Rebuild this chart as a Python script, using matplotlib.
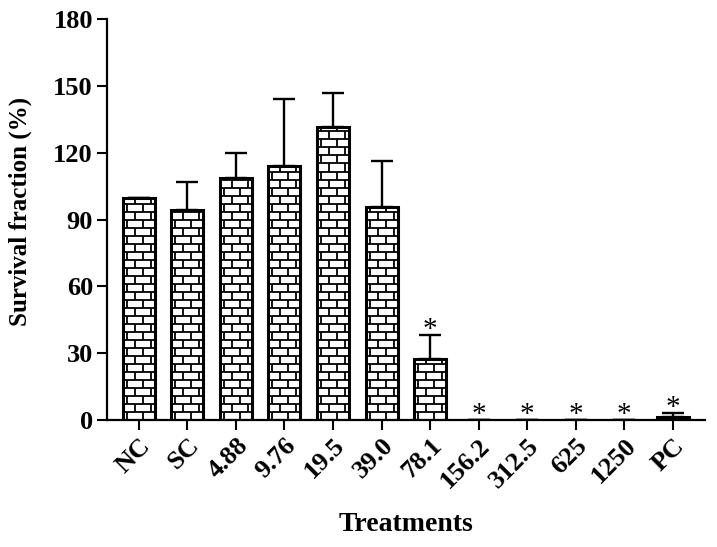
import numpy as np
import matplotlib.pyplot as plt
from matplotlib.collections import LineCollection

plt.rcParams['font.family'] = ['Liberation Serif', 'DejaVu Serif']
plt.rcParams['font.weight'] = 'bold'

# data
treatments = ['NC', 'SC', '4.88', '9.76', '19.5', '39.0', '78.1',
              '156.2', '312.5', '625', '1250', 'PC']
survival = [99.5, 94.5, 108.5, 114.0, 131.5, 95.5, 27.5,
            0.0, 0.0, 0.0, 0.0, 1.5]
sem = [0.0, 12.5, 11.5, 30.0, 15.5, 21.0, 10.5,
       0.0, 0.0, 0.0, 0.0, 1.5]
significant = [False, False, False, False, False, False, True,
               True, True, True, True, True]

fig = plt.figure(figsize=(7.17, 5.47), dpi=100)
ax = fig.add_axes([0.149, 0.232, 0.834, 0.733])

x = np.arange(len(treatments))
width = 0.66
bars = ax.bar(x, survival, width, color='white', edgecolor='black',
              linewidth=2.2, zorder=2)
ax.errorbar(x, survival, yerr=[np.zeros(len(sem)), sem], fmt='none',
            ecolor='black', elinewidth=1.7, capsize=8, capthick=1.7, zorder=1)

# brick pattern, clipped to each bar
brick_h = 3.6    # data units
brick_w = 0.33
for bar in bars:
    h = bar.get_height()
    if h <= 0:
        continue
    x0 = bar.get_x()
    x1 = x0 + bar.get_width()
    segs = []
    nrows = int(np.ceil(h / brick_h))
    for i in range(nrows + 1):
        y = i * brick_h
        segs.append([(x0, y), (x1, y)])
        off = (i % 2) * brick_w / 2
        xs = np.arange(x0 + off + brick_w / 4, x1, brick_w)
        for xv in xs:
            segs.append([(xv, y), (xv, y + brick_h)])
    lc = LineCollection(segs, colors='black', linewidths=1.3, zorder=3)
    ax.add_collection(lc)
    lc.set_clip_path(bar)

# significance marks
for xi, v, e, s in zip(x, survival, sem, significant):
    if s:
        ax.text(xi, v + e - 3.5, '*', ha='center', va='bottom',
                fontsize=21, fontweight='normal')

ax.set_xlim(-0.66, 11.66)
ax.set_ylim(0, 180)
ax.set_yticks([0, 30, 60, 90, 120, 150, 180])
ax.set_xticks(x)
ax.set_xticklabels(treatments, rotation=45, ha='right',
                   rotation_mode='anchor', fontsize=19)
ax.tick_params(axis='y', labelsize=19, width=1.5, length=7, pad=3)
ax.tick_params(axis='x', width=1.5, length=7, pad=3)

for side in ['top', 'right']:
    ax.spines[side].set_visible(False)
for side in ['left', 'bottom']:
    ax.spines[side].set_linewidth(1.6)

ax.set_ylabel('Survival fraction (%)', fontsize=18, fontweight='bold')
ax.yaxis.set_label_coords(-0.125, 0.52)
ax.set_xlabel('Treatments', fontsize=20, fontweight='bold', labelpad=14)

plt.savefig('out.png', dpi=100)
